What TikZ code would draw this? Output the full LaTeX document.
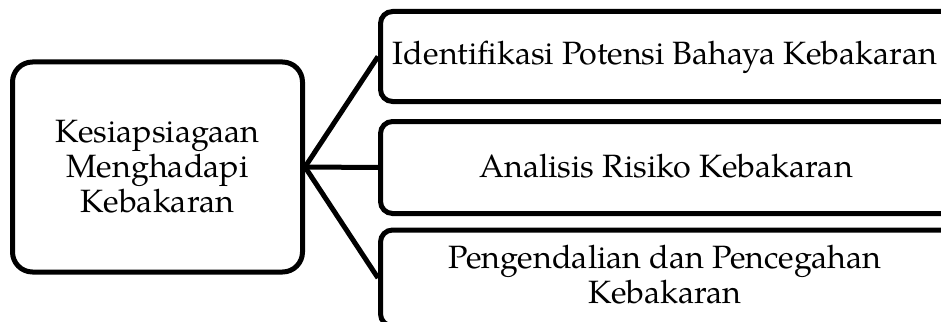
\documentclass[tikz,border=0pt]{standalone}
\usepackage{fontspec}
\setmainfont{texgyrepagella-regular.otf}
\begin{document}
\begin{tikzpicture}[x=0.75pt,y=-0.75pt,
  box/.style={draw, line width=3.75pt, inner sep=0pt},
  link/.style={line width=3.75pt},
  txt/.style={font=\fontsize{24.2}{26.25}\selectfont, align=center, inner sep=0pt}]
\clip (0,0) rectangle (941,321);
\fill[white] (0,0) rectangle (941,321);
\node[box, rounded corners=15pt, minimum width=217.5pt, minimum height=157.5pt] (main) at (157.5,167) {};
\node[box, rounded corners=9pt, minimum width=450pt, minimum height=67.5pt] (b1) at (680.5,56.5) {};
\node[box, rounded corners=9pt, minimum width=450pt, minimum height=69pt] (b2) at (680.5,167.5) {};
\node[box, rounded corners=9pt, minimum width=450pt, minimum height=72pt] (b3) at (680.5,278) {};
\draw[link] (main.east) -- (b1.west);
\draw[link] (main.east) -- (b2.west);
\draw[link] (main.east) -- (b3.west);
\node[txt] (tmain) at (157.5,167) {Kesiapsiagaan\\Menghadapi\\Kebakaran};
\node[txt] (t1) at (665,57) {Identifikasi Potensi Bahaya Kebakaran};
\node[txt] (t2) at (666,166) {Analisis Risiko Kebakaran};
\node[txt] (t3) at (665,275) {Pengendalian dan Pencegahan\\Kebakaran};
\end{tikzpicture}
\end{document}
